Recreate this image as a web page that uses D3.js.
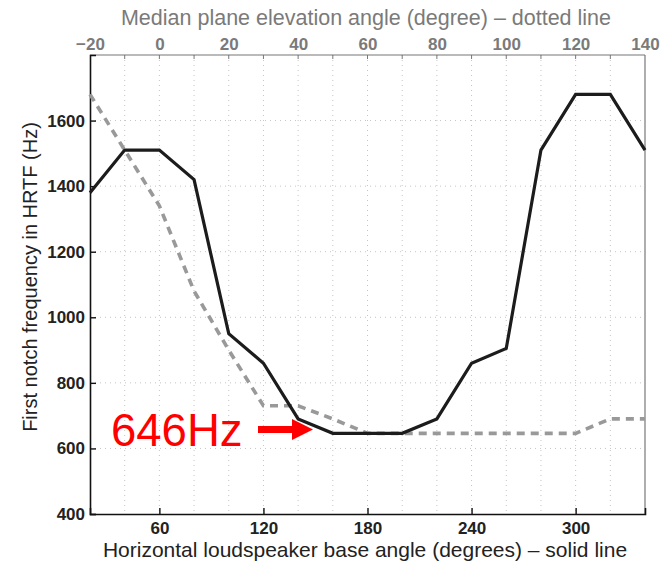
<!DOCTYPE html>
<html>
<head>
<meta charset="utf-8">
<script src="https://cdn.jsdelivr.net/npm/d3@7"></script>
<style>
  body { margin: 0; background: #fff; }
  svg { display: block; font-family: "Liberation Sans", Arial, Helvetica, sans-serif; }
  .tick text { font-family: "Liberation Sans", Arial, Helvetica, sans-serif; font-weight: bold; font-size: 17px; }
</style>
</head>
<body>
<svg id="chart" width="661" height="562"></svg>
<script>
// Horizontal loudspeaker base angle (degrees) and first-notch frequency (Hz) — solid line
const baseAngles = [20, 40, 60, 80, 100, 120, 140, 160, 180, 200, 220, 240, 260, 280, 300, 320, 340];
const baseNotch  = [1380, 1510, 1510, 1420, 950, 860, 690, 646, 646, 646, 690, 860, 905, 1510, 1680, 1680, 1510];

// Median plane elevation angle (degree) and first-notch frequency (Hz) — dotted line
const elevAngles = [-20, -10, 0, 10, 20, 30, 40, 50, 60, 70, 80, 90, 100, 110, 120, 130, 140];
const elevNotch  = [1680, 1510, 1340, 1080, 900, 730, 730, 690, 646, 646, 646, 646, 646, 646, 646, 690, 690];

const bottomTicks = [60, 120, 180, 240, 300];
const topTicks = [-20, 0, 20, 40, 60, 80, 100, 120, 140];
const yTicks = [400, 600, 800, 1000, 1200, 1400, 1600];
const minNotch = 646;

const svg = d3.select("#chart");
const m = { left: 90, right: 645, top: 55, bottom: 514 };

const xBottom = d3.scaleLinear().domain([20, 340]).range([m.left, m.right]);
const xTop = d3.scaleLinear().domain([-20, 140]).range([m.left, m.right]);
const y = d3.scaleLinear().domain([400, 1800]).range([m.bottom, m.top]);

// dotted grid
const grid = svg.append("g").attr("stroke", "#c4c4c4").attr("stroke-width", 1)
  .attr("stroke-dasharray", "1,4");
grid.selectAll("line.v").data(d3.range(-10, 140, 10)).join("line")
  .attr("x1", d => xTop(d)).attr("x2", d => xTop(d))
  .attr("y1", m.top).attr("y2", m.bottom);
grid.selectAll("line.h").data(yTicks.slice(1)).join("line")
  .attr("x1", m.left).attr("x2", m.right)
  .attr("y1", d => y(d)).attr("y2", d => y(d));

// frame: top and right in grey, left and bottom in black
svg.append("line").attr("x1", m.left).attr("x2", m.right).attr("y1", m.top).attr("y2", m.top)
  .attr("stroke", "#777").attr("stroke-width", 1.2);
svg.append("line").attr("x1", m.right).attr("x2", m.right).attr("y1", m.top).attr("y2", m.bottom)
  .attr("stroke", "#777").attr("stroke-width", 1.2);

// top axis (elevation) — grey
const topAxis = svg.append("g").attr("transform", `translate(0,${m.top})`)
  .call(d3.axisTop(xTop).tickValues(topTicks).tickSize(0).tickPadding(5)
    .tickFormat(d => d < 0 ? "\u2212" + Math.abs(d) : d));
topAxis.select(".domain").remove();
topAxis.selectAll("text").attr("fill", "#7a7a7a");
svg.append("g").selectAll("line").data(d3.range(-10, 140, 10)).join("line")
  .attr("x1", d => xTop(d)).attr("x2", d => xTop(d))
  .attr("y1", m.top).attr("y2", m.top + 4).attr("stroke", "#777").attr("stroke-width", 1);

// bottom axis (loudspeaker base angle)
const bottomAxis = svg.append("g").attr("transform", `translate(0,${m.bottom})`)
  .call(d3.axisBottom(xBottom).tickValues(bottomTicks).tickSize(-6).tickPadding(8));
bottomAxis.select(".domain").attr("stroke", "#111").attr("stroke-width", 1.6);
bottomAxis.selectAll(".tick line").attr("stroke", "#111").attr("stroke-width", 1.4);
bottomAxis.selectAll("text").attr("fill", "#222");

// left axis (frequency)
const leftAxis = svg.append("g").attr("transform", `translate(${m.left},0)`)
  .call(d3.axisLeft(y).tickValues(yTicks).tickSize(-6).tickPadding(5).tickFormat(d3.format("d")));
leftAxis.select(".domain").attr("stroke", "#111").attr("stroke-width", 1.6);
leftAxis.selectAll(".tick line").attr("stroke", "#111").attr("stroke-width", 1.4);
leftAxis.selectAll("text").attr("fill", "#222");

// lines
const plot = svg.append("g");
plot.append("path")
  .datum(elevAngles.map((a, i) => [a, elevNotch[i]]))
  .attr("fill", "none").attr("stroke", "#999").attr("stroke-width", 3.6)
  .attr("stroke-dasharray", "8,6")
  .attr("d", d3.line().x(d => xTop(d[0])).y(d => y(d[1])));
plot.append("path")
  .datum(baseAngles.map((a, i) => [a, baseNotch[i]]))
  .attr("fill", "none").attr("stroke", "#1c1c1c").attr("stroke-width", 3.2)
  .attr("stroke-linejoin", "miter")
  .attr("d", d3.line().x(d => xBottom(d[0])).y(d => y(d[1])));

// annotation for the minimum notch frequency
svg.append("text").attr("x", 111).attr("y", 446)
  .attr("fill", "#ff0000").attr("font-size", 45.5)
  .text(minNotch + "Hz");
const ay = 429.5, ax0 = 258, ax1 = 313, head = 21;
svg.append("path")
  .attr("fill", "#ff0000")
  .attr("d", `M${ax0},${ay - 3.5} L${ax1 - head},${ay - 3.5} L${ax1 - head},${ay - 10.5} L${ax1},${ay} L${ax1 - head},${ay + 10.5} L${ax1 - head},${ay + 3.5} L${ax0},${ay + 3.5} Z`);

// axis titles
svg.append("text").attr("x", 366).attr("y", 25).attr("text-anchor", "middle")
  .attr("fill", "#7a7a7a").attr("font-size", 21.5)
  .text("Median plane elevation angle (degree) \u2013 dotted line");
svg.append("text").attr("x", 365).attr("y", 557).attr("text-anchor", "middle")
  .attr("fill", "#222").attr("font-size", 21)
  .text("Horizontal loudspeaker base angle (degrees) \u2013 solid line");
svg.append("text").attr("transform", "translate(37,277) rotate(-90)")
  .attr("text-anchor", "middle").attr("fill", "#222").attr("font-size", 20)
  .text("First notch frequency in HRTF (Hz)");
</script>
</body>
</html>
